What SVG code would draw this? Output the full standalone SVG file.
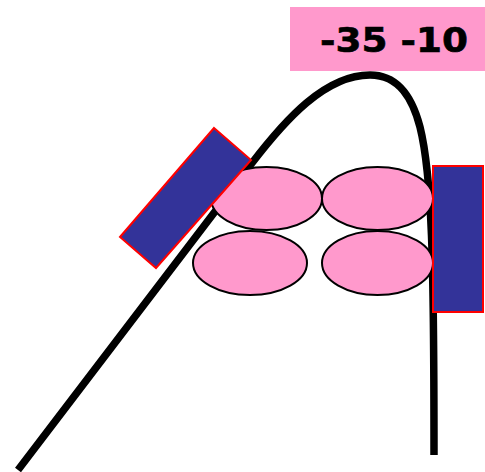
<svg xmlns="http://www.w3.org/2000/svg" width="485" height="472" viewBox="0 0 485 472">
  <style>
    .curve { fill: none; stroke: #000; stroke-width: 7.5; }
    .ell { fill: #FF99CC; stroke: #000; stroke-width: 2; }
    .blk { fill: #333399; stroke: #FF0000; stroke-width: 2; }
    .lbl { font-family: "DejaVu Sans", "Liberation Sans", sans-serif; font-weight: bold; font-size: 34px; fill: #000; stroke: #000; stroke-width: 0.6; }
  </style>
  <rect width="485" height="472" fill="#fff"/>
  <g id="connectors">
    <path class="curve" d="M18,470 L252,163 C285,120 325,75 370,75 C400,75 413,100 420,127 C432,175 434,260 434,455"/>
  </g>
  <g id="ellipse-top-left"><ellipse class="ell" cx="266.5" cy="198.5" rx="55.5" ry="31.5"/></g>
  <g id="ellipse-top-right"><ellipse class="ell" cx="377.5" cy="198.5" rx="55.5" ry="31.5"/></g>
  <g id="ellipse-bottom-left"><ellipse class="ell" cx="250" cy="263" rx="57" ry="32"/></g>
  <g id="ellipse-bottom-right"><ellipse class="ell" cx="377.5" cy="263" rx="55.5" ry="32"/></g>
  <g id="block-left"><polygon class="blk" points="214,128 251,160 156,268 120,237"/></g>
  <g id="block-right"><rect class="blk" x="433" y="166" width="50" height="146"/></g>
  <g id="label">
    <rect x="290" y="7" width="195" height="64" fill="#FF99CC"/>
    <text class="lbl" x="320" y="52" textLength="148" lengthAdjust="spacingAndGlyphs">-35 -10</text>
  </g>
</svg>
